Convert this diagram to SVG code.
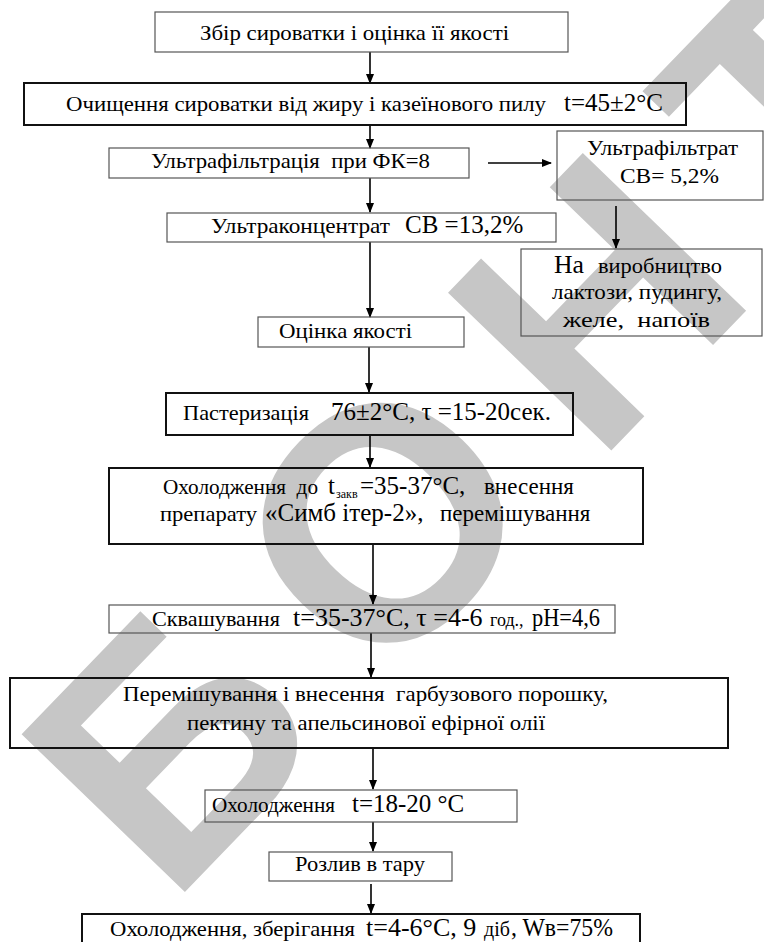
<svg xmlns="http://www.w3.org/2000/svg" width="764" height="942" viewBox="0 0 764 942">
<style>
.thin{fill:none;stroke:#555;stroke-width:1.2}
.thick{fill:none;stroke:#111;stroke-width:2}
.t{font-family:"Liberation Serif","Times New Roman",serif;font-size:21px;fill:#000;white-space:pre}
.b{font-size:25px}
.s26{font-size:26px}
.s23{font-size:23px}
.s22{font-size:22px}
.s20{font-size:20px}
.s18{font-size:18px}
.s12{font-size:12px}
.wm{font-family:"Liberation Sans",Arial,sans-serif;font-weight:bold;font-size:330px;fill:#c6c6c6;letter-spacing:60px}
.c{stroke:#000;stroke-width:1.6;fill:none}
</style>
<defs>
<marker id="ah" markerWidth="10" markerHeight="10" refX="9" refY="5" orient="auto" markerUnits="userSpaceOnUse">
<path d="M0,1 L10,5 L0,9 Z" fill="#000"/>
</marker>
</defs>
<rect width="764" height="942" fill="#fff"/>
<g id="watermark">
<text class="wm" transform="translate(382,518) rotate(-46)" x="-428" y="118">БОНТУ</text>
</g>
<g id="connectors">
<line class="c" x1="370" y1="52" x2="370" y2="83" marker-end="url(#ah)"/>
<line class="c" x1="370" y1="125" x2="370" y2="148" marker-end="url(#ah)"/>
<line class="c" x1="488" y1="163" x2="551" y2="163" marker-end="url(#ah)"/>
<line class="c" x1="370" y1="178" x2="370" y2="212" marker-end="url(#ah)"/>
<line class="c" x1="616" y1="206" x2="616" y2="248" marker-end="url(#ah)"/>
<line class="c" x1="370" y1="242" x2="370" y2="317" marker-end="url(#ah)"/>
<line class="c" x1="369" y1="347" x2="369" y2="392" marker-end="url(#ah)"/>
<line class="c" x1="370" y1="435" x2="370" y2="467" marker-end="url(#ah)"/>
<line class="c" x1="373" y1="545" x2="373" y2="604" marker-end="url(#ah)"/>
<line class="c" x1="371" y1="633" x2="371" y2="677" marker-end="url(#ah)"/>
<line class="c" x1="373" y1="749" x2="373" y2="789" marker-end="url(#ah)"/>
<line class="c" x1="373" y1="822" x2="373" y2="851" marker-end="url(#ah)"/>
<line class="c" x1="371" y1="884" x2="371" y2="913" marker-end="url(#ah)"/>
</g>
<g id="n1"><rect class="thin" x="155" y="12" width="413" height="40"/>
<text class="t" x="200" y="40" textLength="309" lengthAdjust="spacingAndGlyphs">Збір сироватки і оцінка її якості</text></g>
<g id="n2"><rect class="thick" x="24" y="83" width="662" height="42"/>
<text class="t" x="66" y="111" textLength="480" lengthAdjust="spacingAndGlyphs">Очищення сироватки від жиру і казеїнового пилу</text>
<text class="t b" x="564" y="111">t=45±2°C</text></g>
<g id="n3"><rect class="thin" x="109" y="148" width="360" height="30"/>
<text class="t" x="151" y="168" textLength="279" lengthAdjust="spacingAndGlyphs">Ультрафільтрація  при ФК=8</text></g>
<g id="n4"><rect class="thin" x="557" y="131" width="206" height="69"/>
<text class="t" x="587" y="155" textLength="151" lengthAdjust="spacingAndGlyphs">Ультрафільтрат</text>
<text class="t s22" x="620" y="183" textLength="99" lengthAdjust="spacingAndGlyphs">СВ= 5,2%</text></g>
<g id="n5"><rect class="thin" x="167" y="213" width="389" height="29"/>
<text class="t" x="211" y="233" textLength="179" lengthAdjust="spacingAndGlyphs">Ультраконцентрат</text>
<text class="t b" x="405" y="233">СВ =13,2%</text></g>
<g id="n6"><rect class="thin" x="521" y="249" width="241" height="87"/>
<text class="t s26" x="554" y="273" textLength="30" lengthAdjust="spacingAndGlyphs">На</text>
<text class="t s22" x="598" y="273" textLength="124" lengthAdjust="spacingAndGlyphs">виробництво</text>
<text class="t s22" x="552" y="299" textLength="170" lengthAdjust="spacingAndGlyphs">лактози, пудингу,</text>
<text class="t s22" x="563" y="327" textLength="147" lengthAdjust="spacingAndGlyphs">желе,  напоїв</text></g>
<g id="n7"><rect class="thin" x="258" y="317" width="206" height="30"/>
<text class="t" x="279" y="338" textLength="133" lengthAdjust="spacingAndGlyphs">Оцінка якості</text></g>
<g id="n8"><rect class="thick" x="166" y="393" width="407" height="42"/>
<text class="t" x="183" y="420" textLength="126" lengthAdjust="spacingAndGlyphs">Пастеризація</text>
<text class="t b" x="331" y="420">76±2°С, τ =15-20сек.</text></g>
<g id="n9"><rect class="thick" x="109" y="468" width="534" height="76"/>
<text class="t s22" x="163" y="494" textLength="155" lengthAdjust="spacingAndGlyphs">Охолодження  до</text>
<text class="t b" x="328" y="494">t</text>
<text class="t s12" x="336" y="498">закв</text>
<text class="t b" x="360" y="494">=35-37°С,</text>
<text class="t s23" x="484" y="494">внесення</text>
<text class="t s22" x="160" y="521" textLength="97" lengthAdjust="spacingAndGlyphs">препарату</text>
<text class="t b" x="265" y="521">«Симб ітер-2»,</text>
<text class="t s23" x="440" y="521">перемішування</text></g>
<g id="n10"><rect class="thin" x="109" y="605" width="506" height="28"/>
<text class="t s22" x="152" y="626" textLength="128" lengthAdjust="spacingAndGlyphs">Сквашування</text>
<text class="t s26" x="293" y="626">t=35-37°С, τ =4-6</text>
<text class="t s18" x="490" y="626">год.,</text>
<text class="t b" x="532" y="626" textLength="68" lengthAdjust="spacingAndGlyphs">рН=4,6</text></g>
<g id="n11"><rect class="thick" x="10" y="678" width="718" height="70"/>
<text class="t" x="123" y="701" textLength="485" lengthAdjust="spacingAndGlyphs">Перемішування і внесення  гарбузового порошку,</text>
<text class="t" x="187" y="730" textLength="358" lengthAdjust="spacingAndGlyphs">пектину та апельсинової ефірної олії</text></g>
<g id="n12"><rect class="thin" x="205" y="790" width="312" height="32"/>
<text class="t" x="212" y="812" textLength="123" lengthAdjust="spacingAndGlyphs">Охолодження</text>
<text class="t b" x="352" y="812">t=18-20 °С</text></g>
<g id="n13"><rect class="thin" x="269" y="852" width="183" height="29"/>
<text class="t" x="295" y="871" textLength="130" lengthAdjust="spacingAndGlyphs">Розлив в тару</text></g>
<g id="n14"><rect class="thick" x="82" y="914" width="558" height="40"/>
<text class="t" x="110" y="936" textLength="245" lengthAdjust="spacingAndGlyphs">Охолодження, зберігання</text>
<text class="t s26" x="366" y="936">t=4-6°С, 9</text>
<text class="t s20" x="484" y="936">діб</text>
<text class="t b" x="511" y="936" textLength="102" lengthAdjust="spacingAndGlyphs">, Wв=75%</text></g>
</svg>
